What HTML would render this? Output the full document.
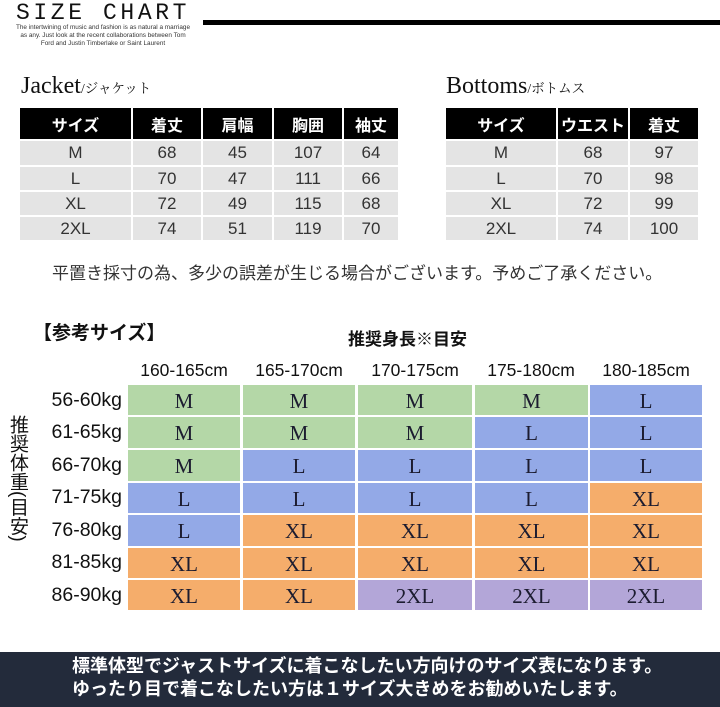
<!DOCTYPE html>
<html><head><meta charset="utf-8">
<style>
*{margin:0;padding:0;box-sizing:border-box}
body{width:720px;height:707px;position:relative;background:#fff;overflow:hidden;font-family:"Liberation Sans","Noto Sans CJK JP",sans-serif}
.a{position:absolute}
.c{position:absolute;display:flex;align-items:center;justify-content:center;white-space:nowrap}
.h{background:#000;color:#fff;font-weight:bold;font-size:16px;font-family:"Liberation Sans","Noto Sans CJK JP",sans-serif}
.b{background:#e4e4e4;color:#333;font-size:17px}
.g{font-family:"Liberation Serif","Noto Serif CJK SC",serif;font-size:21px;color:#1c1c30;padding-top:2px}
.G{background:#b4d7a7}
.B{background:#93a9e7}
.O{background:#f5ad6b}
.P{background:#b3a6d8}
.w{position:absolute;right:598px;font-size:19.5px;color:#111;white-space:nowrap;line-height:30px}
.t{font-size:17.5px;color:#111}
</style></head><body>

<div class="a" style="left:16px;top:2px;font-family:'Liberation Mono',monospace;font-size:23px;line-height:23px;letter-spacing:3.6px;color:#111;white-space:nowrap">SIZE CHART</div>
<div class="a" style="left:203px;top:20px;width:517px;height:5px;background:#000"></div>
<div class="a" style="left:3px;top:24px;width:200px;text-align:center;font-size:6.4px;line-height:8px;color:#333">The intertwining of music and fashion is as natural a marriage<br>as any. Just look at the recent collaborations between Tom<br>Ford and Justin Timberlake or Saint Laurent</div>

<div class="a" style="left:21px;top:73px;white-space:nowrap;color:#111"><span style="font-family:'Liberation Serif',serif;font-size:24px">Jacket</span><span style="font-family:'Liberation Serif','Noto Serif CJK SC',serif;font-size:13.5px">/ジャケット</span></div>
<div class="a" style="left:446px;top:73px;white-space:nowrap;color:#111"><span style="font-family:'Liberation Serif',serif;font-size:24px">Bottoms</span><span style="font-family:'Liberation Serif','Noto Serif CJK SC',serif;font-size:13.5px">/ボトムス</span></div>

<!-- Jacket table -->
<div class="c h" style="left:20px;top:108px;width:111px;height:31px">サイズ</div>
<div class="c h" style="left:133px;top:108px;width:68px;height:31px">着丈</div>
<div class="c h" style="left:203px;top:108px;width:69px;height:31px">肩幅</div>
<div class="c h" style="left:274px;top:108px;width:68px;height:31px">胸囲</div>
<div class="c h" style="left:344px;top:108px;width:54px;height:31px">袖丈</div>

<div class="c b" style="left:20px;top:141px;width:111px;height:24px">M</div>
<div class="c b" style="left:133px;top:141px;width:68px;height:24px">68</div>
<div class="c b" style="left:203px;top:141px;width:69px;height:24px">45</div>
<div class="c b" style="left:274px;top:141px;width:68px;height:24px">107</div>
<div class="c b" style="left:344px;top:141px;width:54px;height:24px">64</div>

<div class="c b" style="left:20px;top:167px;width:111px;height:23px">L</div>
<div class="c b" style="left:133px;top:167px;width:68px;height:23px">70</div>
<div class="c b" style="left:203px;top:167px;width:69px;height:23px">47</div>
<div class="c b" style="left:274px;top:167px;width:68px;height:23px">111</div>
<div class="c b" style="left:344px;top:167px;width:54px;height:23px">66</div>

<div class="c b" style="left:20px;top:192px;width:111px;height:23px">XL</div>
<div class="c b" style="left:133px;top:192px;width:68px;height:23px">72</div>
<div class="c b" style="left:203px;top:192px;width:69px;height:23px">49</div>
<div class="c b" style="left:274px;top:192px;width:68px;height:23px">115</div>
<div class="c b" style="left:344px;top:192px;width:54px;height:23px">68</div>

<div class="c b" style="left:20px;top:217px;width:111px;height:23px">2XL</div>
<div class="c b" style="left:133px;top:217px;width:68px;height:23px">74</div>
<div class="c b" style="left:203px;top:217px;width:69px;height:23px">51</div>
<div class="c b" style="left:274px;top:217px;width:68px;height:23px">119</div>
<div class="c b" style="left:344px;top:217px;width:54px;height:23px">70</div>

<!-- Bottoms table -->
<div class="c h" style="left:446px;top:108px;width:110px;height:31px">サイズ</div>
<div class="c h" style="left:558px;top:108px;width:70px;height:31px">ウエスト</div>
<div class="c h" style="left:630px;top:108px;width:68px;height:31px">着丈</div>

<div class="c b" style="left:446px;top:141px;width:110px;height:24px">M</div>
<div class="c b" style="left:558px;top:141px;width:70px;height:24px">68</div>
<div class="c b" style="left:630px;top:141px;width:68px;height:24px">97</div>
<div class="c b" style="left:446px;top:167px;width:110px;height:23px">L</div>
<div class="c b" style="left:558px;top:167px;width:70px;height:23px">70</div>
<div class="c b" style="left:630px;top:167px;width:68px;height:23px">98</div>
<div class="c b" style="left:446px;top:192px;width:110px;height:23px">XL</div>
<div class="c b" style="left:558px;top:192px;width:70px;height:23px">72</div>
<div class="c b" style="left:630px;top:192px;width:68px;height:23px">99</div>
<div class="c b" style="left:446px;top:217px;width:110px;height:23px">2XL</div>
<div class="c b" style="left:558px;top:217px;width:70px;height:23px">74</div>
<div class="c b" style="left:630px;top:217px;width:68px;height:23px">100</div>

<div class="a" style="left:52px;top:262px;font-size:17px;line-height:24px;color:#333;white-space:nowrap">平置き採寸の為、多少の誤差が生じる場合がございます。予めご了承ください。</div>

<div class="a" style="left:33px;top:321px;font-size:19px;line-height:26px;font-weight:bold;color:#111;white-space:nowrap">【参考サイズ】</div>
<div class="a" style="left:348px;top:328px;font-size:17px;line-height:24px;font-weight:bold;color:#111;white-space:nowrap">推奨身長※目安</div>

<div class="c t" style="left:128px;top:358px;width:112px;height:24px">160-165cm</div>
<div class="c t" style="left:243px;top:358px;width:112px;height:24px">165-170cm</div>
<div class="c t" style="left:358px;top:358px;width:114px;height:24px">170-175cm</div>
<div class="c t" style="left:474px;top:358px;width:114px;height:24px">175-180cm</div>
<div class="c t" style="left:590px;top:358px;width:112px;height:24px">180-185cm</div>

<div class="a" style="left:7px;top:415px;writing-mode:vertical-rl;font-size:19px;line-height:20px;color:#111;white-space:nowrap">推奨体重(目安)</div>

<div class="w" style="top:385px">56-60kg</div>
<div class="w" style="top:417px">61-65kg</div>
<div class="w" style="top:450px">66-70kg</div>
<div class="w" style="top:482px">71-75kg</div>
<div class="w" style="top:515px">76-80kg</div>
<div class="w" style="top:547px">81-85kg</div>
<div class="w" style="top:580px">86-90kg</div>

<!-- grid -->
<div class="c g G" style="left:128px;top:385px;width:112px;height:30px">M</div>
<div class="c g G" style="left:243px;top:385px;width:112px;height:30px">M</div>
<div class="c g G" style="left:358px;top:385px;width:114px;height:30px">M</div>
<div class="c g G" style="left:475px;top:385px;width:113px;height:30px">M</div>
<div class="c g B" style="left:590px;top:385px;width:112px;height:30px">L</div>

<div class="c g G" style="left:128px;top:417px;width:112px;height:31px">M</div>
<div class="c g G" style="left:243px;top:417px;width:112px;height:31px">M</div>
<div class="c g G" style="left:358px;top:417px;width:114px;height:31px">M</div>
<div class="c g B" style="left:475px;top:417px;width:113px;height:31px">L</div>
<div class="c g B" style="left:590px;top:417px;width:112px;height:31px">L</div>

<div class="c g G" style="left:128px;top:450px;width:112px;height:31px">M</div>
<div class="c g B" style="left:243px;top:450px;width:112px;height:31px">L</div>
<div class="c g B" style="left:358px;top:450px;width:114px;height:31px">L</div>
<div class="c g B" style="left:475px;top:450px;width:113px;height:31px">L</div>
<div class="c g B" style="left:590px;top:450px;width:112px;height:31px">L</div>

<div class="c g B" style="left:128px;top:483px;width:112px;height:30px">L</div>
<div class="c g B" style="left:243px;top:483px;width:112px;height:30px">L</div>
<div class="c g B" style="left:358px;top:483px;width:114px;height:30px">L</div>
<div class="c g B" style="left:475px;top:483px;width:113px;height:30px">L</div>
<div class="c g O" style="left:590px;top:483px;width:112px;height:30px">XL</div>

<div class="c g B" style="left:128px;top:515px;width:112px;height:31px">L</div>
<div class="c g O" style="left:243px;top:515px;width:112px;height:31px">XL</div>
<div class="c g O" style="left:358px;top:515px;width:114px;height:31px">XL</div>
<div class="c g O" style="left:475px;top:515px;width:113px;height:31px">XL</div>
<div class="c g O" style="left:590px;top:515px;width:112px;height:31px">XL</div>

<div class="c g O" style="left:128px;top:548px;width:112px;height:30px">XL</div>
<div class="c g O" style="left:243px;top:548px;width:112px;height:30px">XL</div>
<div class="c g O" style="left:358px;top:548px;width:114px;height:30px">XL</div>
<div class="c g O" style="left:475px;top:548px;width:113px;height:30px">XL</div>
<div class="c g O" style="left:590px;top:548px;width:112px;height:30px">XL</div>

<div class="c g O" style="left:128px;top:580px;width:112px;height:30px">XL</div>
<div class="c g O" style="left:243px;top:580px;width:112px;height:30px">XL</div>
<div class="c g P" style="left:358px;top:580px;width:114px;height:30px">2XL</div>
<div class="c g P" style="left:475px;top:580px;width:113px;height:30px">2XL</div>
<div class="c g P" style="left:590px;top:580px;width:112px;height:30px">2XL</div>

<!-- banner -->
<div class="a" style="left:0;top:652px;width:720px;height:55px;background:#232b3b"></div>
<div class="a" style="left:72px;top:655px;font-size:18px;line-height:23px;font-weight:bold;color:#fff;white-space:nowrap">標準体型でジャストサイズに着こなしたい方向けのサイズ表になります。<br>ゆったり目で着こなしたい方は１サイズ大きめをお勧めいたします。</div>

</body></html>
